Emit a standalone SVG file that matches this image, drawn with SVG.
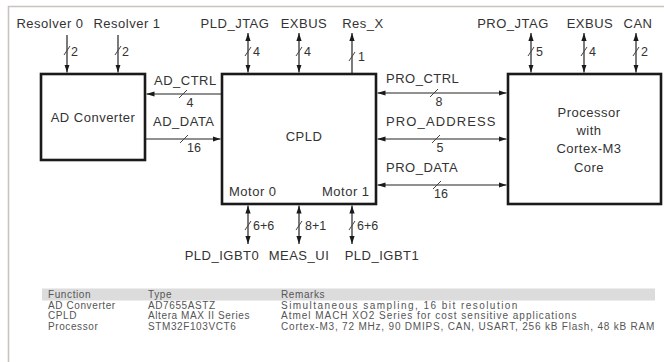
<svg xmlns="http://www.w3.org/2000/svg" width="664" height="362" viewBox="0 0 664 362">
<style>
text{font-family:"Liberation Sans",Arial,sans-serif;fill:#333}
.lb{font-size:13px;letter-spacing:0.5px}
.n{font-size:12.5px}
.t{font-size:10px;fill:#555;letter-spacing:0.6px}
.box{fill:#fff;stroke:#1a1a1a;stroke-width:2.6}
.c{stroke:#222;stroke-width:1.2;fill:none}
.s{stroke:#444;stroke-width:1}
</style>
<defs>
<marker id="ah" viewBox="0 0 8 6" refX="8" refY="3" markerWidth="8" markerHeight="6" markerUnits="userSpaceOnUse" orient="auto-start-reverse">
<path d="M0,0.4 L8,3 L0,5.6 z" fill="#1a1a1a"/>
</marker>
</defs>
<rect width="664" height="362" fill="#fff"/>
<path d="M8.5,362 V6.5 H664" fill="none" stroke="#c9c3bb" stroke-width="1.6"/>

<g id="ad-converter">
<rect class="box" x="41" y="74" width="104" height="86"/>
<text class="lb" x="93" y="122" text-anchor="middle">AD Converter</text>
</g>
<g id="cpld">
<rect class="box" x="222" y="74" width="154" height="130"/>
<text class="lb" x="304" y="141" text-anchor="middle">CPLD</text>
<text class="lb" x="229" y="196">Motor 0</text>
<text class="lb" x="322" y="196">Motor 1</text>
</g>
<g id="processor">
<rect class="box" x="508" y="74" width="153" height="130"/>
<text class="lb" x="589" y="117" text-anchor="middle">Processor</text>
<text class="lb" x="589" y="135" text-anchor="middle">with</text>
<text class="lb" x="589" y="153" text-anchor="middle">Cortex-M3</text>
<text class="lb" x="589" y="172" text-anchor="middle">Core</text>
</g>

<g id="connectors">
<line class="c" x1="67" y1="35" x2="67" y2="72.5" marker-end="url(#ah)"/>
<line class="c" x1="118" y1="35" x2="118" y2="72.5" marker-end="url(#ah)"/>
<line class="c" x1="248" y1="33" x2="248" y2="72.5" marker-start="url(#ah)" marker-end="url(#ah)"/>
<line class="c" x1="299" y1="33" x2="299" y2="72.5" marker-start="url(#ah)" marker-end="url(#ah)"/>
<line class="c" x1="352" y1="73" x2="352" y2="33" marker-end="url(#ah)"/>
<line class="c" x1="531" y1="33" x2="531" y2="72.5" marker-start="url(#ah)" marker-end="url(#ah)"/>
<line class="c" x1="584" y1="33" x2="584" y2="72.5" marker-start="url(#ah)" marker-end="url(#ah)"/>
<line class="c" x1="636" y1="33" x2="636" y2="72.5" marker-start="url(#ah)" marker-end="url(#ah)"/>

<line class="c" x1="221" y1="94" x2="146.5" y2="94" marker-end="url(#ah)"/>
<line class="c" x1="146" y1="139" x2="220.5" y2="139" marker-end="url(#ah)"/>
<line class="c" x1="377.5" y1="93" x2="506.5" y2="93" marker-start="url(#ah)" marker-end="url(#ah)"/>
<line class="c" x1="377.5" y1="139" x2="506.5" y2="139" marker-start="url(#ah)" marker-end="url(#ah)"/>
<line class="c" x1="377.5" y1="185" x2="506.5" y2="185" marker-start="url(#ah)" marker-end="url(#ah)"/>

<line class="c" x1="248" y1="205.5" x2="248" y2="244" marker-start="url(#ah)" marker-end="url(#ah)"/>
<line class="c" x1="299" y1="205.5" x2="299" y2="244" marker-start="url(#ah)" marker-end="url(#ah)"/>
<line class="c" x1="352" y1="205.5" x2="352" y2="244" marker-start="url(#ah)" marker-end="url(#ah)"/>

<g class="s">
<line x1="64" y1="55" x2="70" y2="46"/>
<line x1="115" y1="55" x2="121" y2="46"/>
<line x1="245" y1="56" x2="251" y2="47"/>
<line x1="296" y1="56" x2="302" y2="47"/>
<line x1="349" y1="61" x2="355" y2="52"/>
<line x1="528" y1="56" x2="534" y2="47"/>
<line x1="581" y1="56" x2="587" y2="47"/>
<line x1="633" y1="56" x2="639" y2="47"/>
<line x1="179" y1="98" x2="187" y2="90"/>
<line x1="180" y1="143" x2="188" y2="135"/>
<line x1="430" y1="97" x2="438" y2="89"/>
<line x1="432" y1="143" x2="440" y2="135"/>
<line x1="433" y1="189" x2="441" y2="181"/>
<line x1="245" y1="230" x2="251" y2="221"/>
<line x1="296" y1="230" x2="302" y2="221"/>
<line x1="349" y1="230" x2="355" y2="221"/>
</g>
</g>

<g id="labels">
<text class="lb" x="50" y="28" text-anchor="middle">Resolver 0</text>
<text class="lb" x="127" y="28" text-anchor="middle">Resolver 1</text>
<text class="lb" x="235" y="28" text-anchor="middle">PLD_JTAG</text>
<text class="lb" x="304" y="28" text-anchor="middle">EXBUS</text>
<text class="lb" x="363" y="28" text-anchor="middle">Res_X</text>
<text class="lb" x="513" y="28" text-anchor="middle">PRO_JTAG</text>
<text class="lb" x="590" y="28" text-anchor="middle">EXBUS</text>
<text class="lb" x="638" y="28" text-anchor="middle">CAN</text>

<text class="n" x="71" y="56">2</text>
<text class="n" x="122" y="56">2</text>
<text class="n" x="253" y="56">4</text>
<text class="n" x="304" y="56">4</text>
<text class="n" x="358" y="61">1</text>
<text class="n" x="536" y="56">5</text>
<text class="n" x="589" y="56">4</text>
<text class="n" x="641" y="56">2</text>

<text class="lb" x="154" y="85">AD_CTRL</text>
<text class="n" x="190" y="107" text-anchor="middle">4</text>
<text class="lb" x="153" y="126">AD_DATA</text>
<text class="n" x="194" y="152" text-anchor="middle">16</text>
<text class="lb" x="386" y="83">PRO_CTRL</text>
<text class="n" x="439" y="106" text-anchor="middle">8</text>
<text class="lb" x="386" y="126" textLength="110">PRO_ADDRESS</text>
<text class="n" x="440" y="152" text-anchor="middle">5</text>
<text class="lb" x="386" y="172">PRO_DATA</text>
<text class="n" x="441" y="198" text-anchor="middle">16</text>

<text class="n" x="253" y="230">6+6</text>
<text class="n" x="305" y="230">8+1</text>
<text class="n" x="357" y="230">6+6</text>
<text class="lb" x="222" y="260" text-anchor="middle">PLD_IGBT0</text>
<text class="lb" x="299" y="260" text-anchor="middle">MEAS_UI</text>
<text class="lb" x="382" y="260" text-anchor="middle">PLD_IGBT1</text>
</g>

<g id="table">
<rect x="42" y="288.5" width="613" height="12" fill="#dcdcdc"/>
<text class="t" x="48" y="298">Function</text>
<text class="t" x="148" y="298">Type</text>
<text class="t" x="281" y="298">Remarks</text>
<text class="t" x="48" y="308.5">AD Converter</text>
<text class="t" x="148" y="308.5">AD7655ASTZ</text>
<text class="t" x="281" y="308.5" textLength="237" lengthAdjust="spacing">Simultaneous sampling, 16 bit resolution</text>
<text class="t" x="48" y="319">CPLD</text>
<text class="t" x="148" y="319">Altera MAX II Series</text>
<text class="t" x="281" y="319" textLength="296" lengthAdjust="spacing">Atmel MACH XO2 Series for cost sensitive  applications</text>
<text class="t" x="48" y="329.5">Processor</text>
<text class="t" x="148" y="329.5">STM32F103VCT6</text>
<text class="t" x="281" y="329.5" textLength="374" lengthAdjust="spacing">Cortex-M3, 72 MHz, 90 DMIPS, CAN, USART, 256 kB Flash, 48 kB RAM</text>
</g>
</svg>
